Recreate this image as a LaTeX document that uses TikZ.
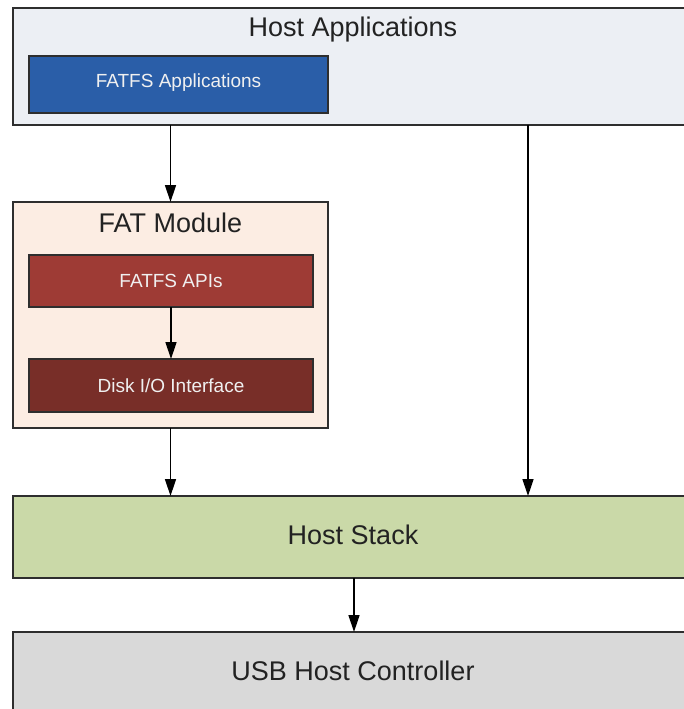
\documentclass[tikz,border=0pt]{standalone}
\usepackage{fontspec}
\setmainfont{Liberation Sans}
\usetikzlibrary{arrows.meta}

\definecolor{appbg}{HTML}{ECEFF4}
\definecolor{appblue}{HTML}{2A5EA8}
\definecolor{fatbg}{HTML}{FCEDE3}
\definecolor{apired}{HTML}{9E3B35}
\definecolor{diskred}{HTML}{782E28}
\definecolor{stackgreen}{HTML}{CAD9A8}
\definecolor{usbgray}{HTML}{D9D9D9}
\definecolor{edge}{HTML}{2E2E2E}
\definecolor{ink}{HTML}{222222}

\tikzset{
  layer/.style={draw=edge, line width=1.3pt, anchor=north west, inner sep=0pt, outer sep=0pt},
  inner/.style={layer, fill=#1},
  label/.style={text=white!94!black, font=\fontsize{19}{22}\selectfont, inner sep=0pt, anchor=base},
  bigtext/.style={text=ink, font=\fontsize{27}{32}\selectfont, inner sep=0pt, anchor=base},
  arr/.style={draw=black, line width=1.4pt, -{Triangle[width=11pt,length=17pt]}}
}

\begin{document}
\begin{tikzpicture}[x=1pt, y=-1pt]
  \useasboundingbox (0,0) rectangle (684,709);
  \clip (0,0) rectangle (684,709);
  \fill[white] (0,0) rectangle (684,709);

  % host application layer
  \node[layer, fill=appbg, minimum width=680pt, minimum height=117pt] (hostapp) at (13,8) {};
  \node[bigtext] (hostapptitle) at (353,37) {Host Applications};
  \node[inner=appblue, minimum width=299pt, minimum height=57pt] (fatfsapp) at (29,56) {};
  \node[label] (fatfsapptext) at (178.5,88) {FATFS Applications};

  % FAT module with its two blocks
  \node[layer, fill=fatbg, minimum width=315pt, minimum height=226pt] (fatmod) at (13,202) {};
  \node[bigtext] (fatmodtitle) at (170.5,232) {FAT Module};
  \node[inner=apired, minimum width=284pt, minimum height=52pt] (fatapi) at (29,255) {};
  \node[label] (fatapitext) at (171,287) {FATFS APIs};
  \node[inner=diskred, minimum width=284pt, minimum height=53pt] (diskio) at (29,359) {};
  \node[label] (diskiotext) at (171,392) {Disk I/O Interface};

  % lower layers
  \node[layer, fill=stackgreen, minimum width=680pt, minimum height=82pt] (hoststack) at (13,496) {};
  \node[bigtext] (hoststacktitle) at (353,544) {Host Stack};
  \node[layer, fill=usbgray, minimum width=680pt, minimum height=90pt] (usb) at (13,632) {};
  \node[bigtext] (usbtitle) at (353,680) {USB Host Controller};

  % connectors
  \coordinate (rightcol) at (528,0);
  \coordinate (stackcol) at (354,0);
  \draw[arr] (fatmod.north |- hostapp.south) -- (fatmod.north);
  \draw[arr] (fatapi.south) -- (diskio.north);
  \draw[arr] (fatmod.south) -- (fatmod.south |- hoststack.north);
  \draw[arr] (rightcol |- hostapp.south) -- (rightcol |- hoststack.north);
  \draw[arr] (stackcol |- hoststack.south) -- (stackcol |- usb.north);
\end{tikzpicture}
\end{document}
